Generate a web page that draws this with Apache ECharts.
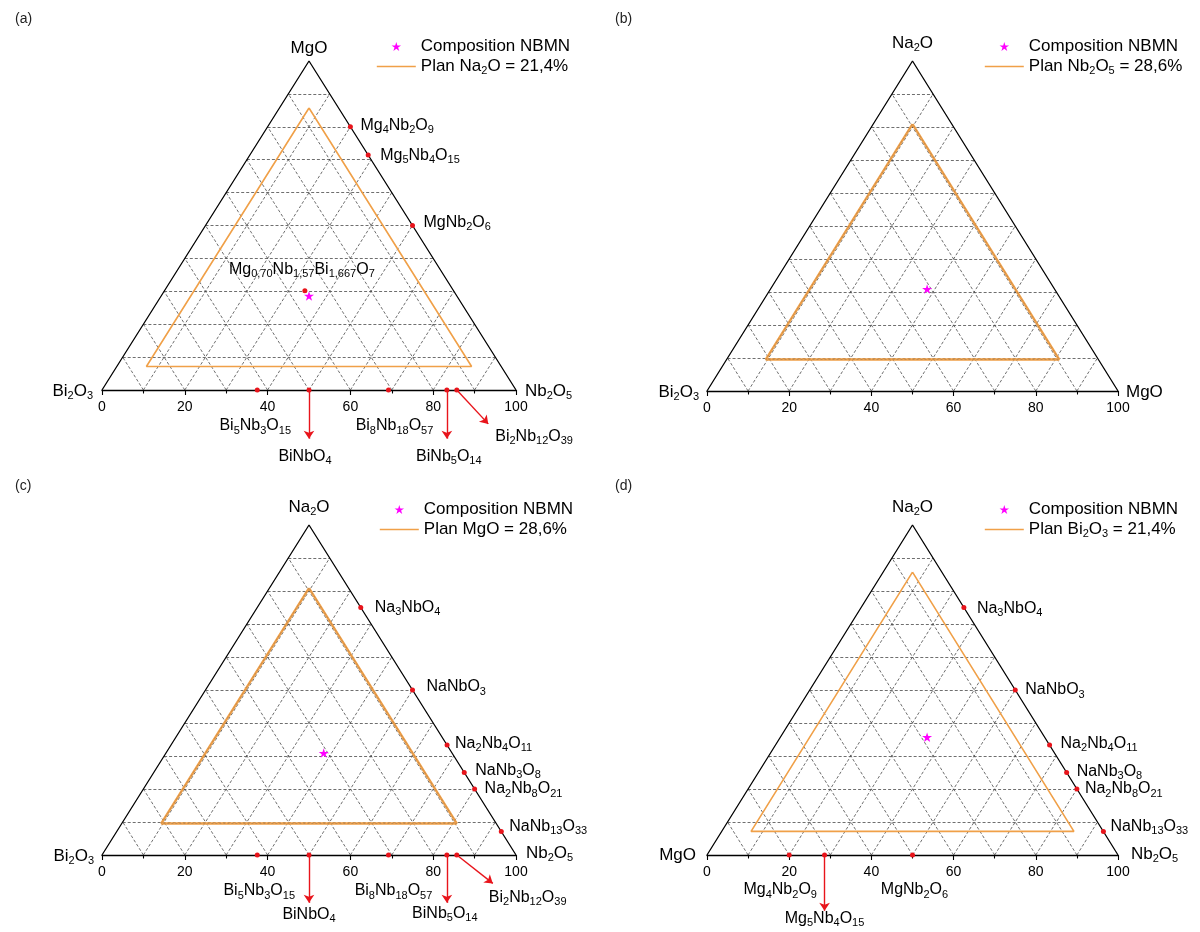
<!DOCTYPE html>
<html><head><meta charset="utf-8">
<script src="https://cdn.jsdelivr.net/npm/echarts/dist/echarts.min.js"></script>
<style>html,body{margin:0;padding:0;background:#fff}#c{width:1200px;height:932px}</style>
</head><body><div id="c"></div>
<script>
// ================= DATA (mol %) =================
// compositions are given as [top component %, right component %]; left = 100 - top - right
const GRID_LEVELS = [10, 20, 30, 40, 50, 60, 70, 80, 90];
const AXIS_TICK_STEP = 20;
const STAR_NAME = 'Composition NBMN';

// Panel (a): MgO (top) - Bi2O3 (left) - Nb2O5 (right)
const A_CORNERS = ['MgO', 'Bi2O3', 'Nb2O5'];
const A_PLAN_NAME = 'Plan Na2O = 21,4%';
const A_PLAN_TOP = [85.7, 7.15, 7.15];
const A_PLAN_RIGHT = [7.15, 7.15, 85.7];
const A_STAR_TOP = [28.6];
const A_STAR_RIGHT = [35.7];
const A_PHASES = ['Mg4Nb2O9', 'Mg5Nb4O15', 'MgNb2O6', 'Mg0,70Nb1,57Bi1,667O7', 'Bi5Nb3O15', 'BiNbO4', 'Bi8Nb18O57', 'BiNb5O14', 'Bi2Nb12O39'];
const A_PHASE_TOP = [80, 71.4, 50, 30.2, 0, 0, 0, 0, 0];
const A_PHASE_RIGHT = [20, 28.6, 50, 33.9, 37.5, 50, 69.2, 83.3, 85.7];
const A_ARROWS = ['BiNbO4', 'BiNb5O14', 'Bi2Nb12O39'];
const A_ARROW_X = [50, 83.3, 93.3];      // arrow tip, base-axis value
const A_ARROW_Y = [-14.8, -14.8, -10.3]; // arrow tip, height value (below the base)

// Panel (b): Na2O (top) - Bi2O3 (left) - MgO (right)
const B_CORNERS = ['Na2O', 'Bi2O3', 'MgO'];
const B_PLAN_NAME = 'Plan Nb2O5 = 28,6%';
const B_PLAN_TOP = [80.9, 9.55, 9.55];
const B_PLAN_RIGHT = [9.55, 9.55, 80.9];
const B_STAR_TOP = [30.9];
const B_STAR_RIGHT = [38.1];
const B_PHASES = [];
const B_PHASE_TOP = [];
const B_PHASE_RIGHT = [];
const B_ARROWS = [];
const B_ARROW_X = [];
const B_ARROW_Y = [];

// Panel (c): Na2O (top) - Bi2O3 (left) - Nb2O5 (right)
const C_CORNERS = ['Na2O', 'Bi2O3', 'Nb2O5'];
const C_PLAN_NAME = 'Plan MgO = 28,6%';
const C_PLAN_TOP = [80.9, 9.55, 9.55];
const C_PLAN_RIGHT = [9.55, 9.55, 80.9];
const C_STAR_TOP = [30.9];
const C_STAR_RIGHT = [38.1];
const C_PHASES = ['Na3NbO4', 'NaNbO3', 'Na2Nb4O11', 'NaNb3O8', 'Na2Nb8O21', 'NaNb13O33', 'Bi5Nb3O15', 'BiNbO4', 'Bi8Nb18O57', 'BiNb5O14', 'Bi2Nb12O39'];
const C_PHASE_TOP = [75, 50, 33.3, 25, 20, 7.1, 0, 0, 0, 0, 0];
const C_PHASE_RIGHT = [25, 50, 66.7, 75, 80, 92.9, 37.5, 50, 69.2, 83.3, 85.7];
const C_ARROWS = ['BiNbO4', 'BiNb5O14', 'Bi2Nb12O39'];
const C_ARROW_X = [50, 83.3, 94.4];
const C_ARROW_Y = [-14.5, -14.5, -8.6];

// Panel (d): Na2O (top) - MgO (left) - Nb2O5 (right)
const D_CORNERS = ['Na2O', 'MgO', 'Nb2O5'];
const D_PLAN_NAME = 'Plan Bi2O3 = 21,4%';
const D_PLAN_TOP = [85.7, 7.15, 7.15];
const D_PLAN_RIGHT = [7.15, 7.15, 85.7];
const D_STAR_TOP = [35.7];
const D_STAR_RIGHT = [35.7];
const D_PHASES = ['Na3NbO4', 'NaNbO3', 'Na2Nb4O11', 'NaNb3O8', 'Na2Nb8O21', 'NaNb13O33', 'Mg4Nb2O9', 'Mg5Nb4O15', 'MgNb2O6'];
const D_PHASE_TOP = [75, 50, 33.3, 25, 20, 7.1, 0, 0, 0];
const D_PHASE_RIGHT = [25, 50, 66.7, 75, 80, 92.9, 20, 28.6, 50];
const D_ARROWS = ['Mg5Nb4O15'];
const D_ARROW_X = [28.6];
const D_ARROW_Y = [-16.9];

// ================= LAYOUT / STYLE =================
const FONT = 'Liberation Sans, Arial, sans-serif';
const TXT = '#000';
const ORANGE = '#F0A048';
const RED = '#E8141B';
const MAGENTA = '#FF00FF';
const STAR = 'path://M50,0 L61.2,34.5 L97.6,34.5 L68.2,55.9 L79.4,90.5 L50,69.1 L20.6,90.5 L31.8,55.9 L2.4,34.5 L38.8,34.5 Z';

const PANELS = [
  { tag: '(a)', tagPos: [10, 7], grid: [102, 61, 414, 329], legend: [376, 38], planW: 1.6, planDouble: false,
    corners: A_CORNERS, planName: A_PLAN_NAME, planTop: A_PLAN_TOP, planRight: A_PLAN_RIGHT,
    starTop: A_STAR_TOP, starRight: A_STAR_RIGHT, phases: A_PHASES, phTop: A_PHASE_TOP, phRight: A_PHASE_RIGHT,
    arrows: A_ARROWS, arX: A_ARROW_X, arY: A_ARROW_Y,
    cornerLbl: [[0, -13, 'center'], [-9, 1, 'right'], [9, 1, 'left']],
    lbl: { 'Mg4Nb2O9': [10, -1, 'left'], 'Mg5Nb4O15': [12, 0, 'left'], 'MgNb2O6': [11, -3, 'left'],
           'Mg0,70Nb1,57Bi1,667O7': [-3, -21, 'center'], 'Bi5Nb3O15': [-2, 36, 'center'], 'Bi8Nb18O57': [6, 36, 'center'] },
    tipLbl: { 'BiNbO4': [-4, 18, 'center'], 'BiNb5O14': [2, 18, 'center'], 'Bi2Nb12O39': [7, 13, 'left'] } },
  { tag: '(b)', tagPos: [610, 7], grid: [707, 61, 411, 330], legend: [984, 38], planW: 2.4, planDouble: true,
    corners: B_CORNERS, planName: B_PLAN_NAME, planTop: B_PLAN_TOP, planRight: B_PLAN_RIGHT,
    starTop: B_STAR_TOP, starRight: B_STAR_RIGHT, phases: B_PHASES, phTop: B_PHASE_TOP, phRight: B_PHASE_RIGHT,
    arrows: B_ARROWS, arX: B_ARROW_X, arY: B_ARROW_Y,
    cornerLbl: [[0, -18, 'center'], [-8, 1, 'right'], [8, 1, 'left']], lbl: {}, tipLbl: {} },
  { tag: '(c)', tagPos: [10, 474], grid: [102, 525, 414, 330], legend: [379, 501], planW: 2.4, planDouble: true,
    corners: C_CORNERS, planName: C_PLAN_NAME, planTop: C_PLAN_TOP, planRight: C_PLAN_RIGHT,
    starTop: C_STAR_TOP, starRight: C_STAR_RIGHT, phases: C_PHASES, phTop: C_PHASE_TOP, phRight: C_PHASE_RIGHT,
    arrows: C_ARROWS, arX: C_ARROW_X, arY: C_ARROW_Y,
    cornerLbl: [[0, -18, 'center'], [-8, 1, 'right'], [10, -2, 'left']],
    lbl: { 'Na3NbO4': [14, 0, 'left'], 'NaNbO3': [14, -3, 'left'], 'Na2Nb4O11': [8, -2, 'left'], 'NaNb3O8': [11, -2, 'left'],
           'Na2Nb8O21': [10, 0, 'left'], 'NaNb13O33': [8, -5, 'left'], 'Bi5Nb3O15': [2, 36, 'center'], 'Bi8Nb18O57': [5, 36, 'center'] },
    tipLbl: { 'BiNbO4': [0, 12, 'center'], 'BiNb5O14': [-2, 11, 'center'], 'Bi2Nb12O39': [-4, 14, 'left'] } },
  { tag: '(d)', tagPos: [610, 474], grid: [707, 525, 411, 330], legend: [984, 501], planW: 1.6, planDouble: false,
    corners: D_CORNERS, planName: D_PLAN_NAME, planTop: D_PLAN_TOP, planRight: D_PLAN_RIGHT,
    starTop: D_STAR_TOP, starRight: D_STAR_RIGHT, phases: D_PHASES, phTop: D_PHASE_TOP, phRight: D_PHASE_RIGHT,
    arrows: D_ARROWS, arX: D_ARROW_X, arY: D_ARROW_Y,
    cornerLbl: [[0, -17.5, 'center'], [-11, 0, 'right'], [13, -1, 'left']],
    lbl: { 'Na3NbO4': [13, 1, 'left'], 'NaNbO3': [10, 0, 'left'], 'Na2Nb4O11': [11, -2, 'left'], 'NaNb3O8': [10, -1, 'left'],
           'Na2Nb8O21': [8, 0, 'left'], 'NaNb13O33': [7, -5, 'left'], 'Mg4Nb2O9': [-9, 35, 'center'], 'MgNb2O6': [2, 35, 'center'] },
    tipLbl: { 'Mg5Nb4O15': [0, 8, 'center'] } }
];

// ================= HELPERS =================
function tern(top, right) { return [right + top / 2, top]; }
function rich(s) {
  return s.split(/(?<=[A-Za-z])(\d[\d,]*)/).map((p, i) => p === '' ? '' : (i % 2 ? '{s|' + p + '}' : '{n|' + p + '}')).join('');
}
function richStyle(size, sub) {
  return { n: { fontSize: size, lineHeight: 20, color: TXT, fontFamily: FONT, textBorderWidth: 0, opacity: 1 },
           s: { fontSize: sub, lineHeight: sub, verticalAlign: 'bottom', color: TXT, fontFamily: FONT, textBorderWidth: 0, opacity: 1 } };
}
const LBL_RICH = richStyle(16, 11);
const CORNER_RICH = richStyle(17, 11);
const LEG_RICH = richStyle(17, 11);

function gridSegments() {
  const segs = [];
  GRID_LEVELS.forEach(v => {
    segs.push({ coords: [[v / 2, v], [100 - v / 2, v]] });              // constant top component
    segs.push({ coords: [tern(0, v), tern(100 - v, v)] });               // constant right component
    segs.push({ coords: [tern(0, 100 - v), tern(100 - v, 0)] });         // constant left component
  });
  return segs;
}
function lblOpt(o, size) {
  return { show: true, position: 'inside', offset: [o[0], o[1]], align: o[2], verticalAlign: 'middle',
           color: TXT, opacity: 1, textBorderWidth: 0, textShadowBlur: 0,
           formatter: p => rich(p.name), rich: size === 17 ? CORNER_RICH : LBL_RICH };
}

// ================= BUILD =================
const grids = [], xAxes = [], yAxes = [], series = [], legends = [], titles = [];
PANELS.forEach((P, gi) => {
  const ax = { xAxisIndex: gi, yAxisIndex: gi };
  grids.push({ left: P.grid[0], top: P.grid[1], width: P.grid[2], height: P.grid[3], containLabel: false });
  xAxes.push({ gridIndex: gi, type: 'value', min: 0, max: 100, interval: AXIS_TICK_STEP,
    axisLine: { show: true, lineStyle: { color: '#000', width: 1.3 } },
    axisTick: { show: true, length: 5, lineStyle: { color: '#000', width: 1.1 } },
    minorTick: { show: true, splitNumber: 2, length: 3.5, lineStyle: { color: '#000', width: 1.1 } },
    splitLine: { show: false },
    axisLabel: { fontSize: 14, color: TXT, margin: 10, fontFamily: FONT, showMinLabel: true, showMaxLabel: true } });
  yAxes.push({ gridIndex: gi, type: 'value', min: 0, max: 100, show: false });
  titles.push({ text: P.tag, left: P.tagPos[0], top: P.tagPos[1], textStyle: { fontSize: 14, fontWeight: 'normal', color: '#222', fontFamily: FONT } });

  // grid lines
  series.push(Object.assign({ type: 'lines', coordinateSystem: 'cartesian2d', silent: true, clip: false, z: 1,
    lineStyle: { color: '#4a4a4a', width: 0.8, type: [3, 2], opacity: 1 }, data: gridSegments() }, ax));
  // triangle sides (base is the axis line)
  series.push(Object.assign({ type: 'line', silent: true, clip: false, symbol: 'none', z: 4,
    lineStyle: { color: '#000', width: 1.3 }, data: [tern(0, 0), tern(100, 0), tern(0, 100)] }, ax));
  // plan triangle
  const planData = P.planTop.map((t, k) => tern(t, P.planRight[k]));
  planData.push(planData[0]);
  series.push(Object.assign({ type: 'line', name: P.planName, silent: true, clip: false, symbol: 'none', showSymbol: false, z: 3,
    color: ORANGE, itemStyle: { color: ORANGE }, lineStyle: { color: ORANGE, width: P.planW }, data: planData }, ax));
  if (P.planDouble) {
    series.push(Object.assign({ type: 'line', silent: true, clip: false, symbol: 'none', z: 3,
      lineStyle: { color: '#9a7a5a', width: 0.7, type: [2, 2], opacity: 0.8 }, data: planData }, ax));
  }
  // phases (red dots)
  const pos = {};
  P.phases.forEach((n, k) => { pos[n] = tern(P.phTop[k], P.phRight[k]); });
  if (P.phases.length) {
    series.push(Object.assign({ type: 'scatter', silent: true, clip: false, z: 5, symbol: 'circle', symbolSize: 5,
      itemStyle: { color: RED, opacity: 1 },
      data: P.phases.map(n => ({ name: n, value: pos[n], label: P.lbl[n] ? lblOpt(P.lbl[n], 16) : { show: false } })) }, ax));
  }
  // arrows
  if (P.arrows.length) {
    series.push(Object.assign({ type: 'lines', coordinateSystem: 'cartesian2d', silent: true, clip: false, z: 5,
      symbol: ['none', 'arrow'], symbolSize: 8,
      lineStyle: { color: RED, width: 1.4, opacity: 1 },
      data: P.arrows.map((n, k) => ({ coords: [pos[n], [P.arX[k], P.arY[k]]] })) }, ax));
    series.push(Object.assign({ type: 'scatter', silent: true, clip: false, z: 6, symbolSize: 1,
      itemStyle: { color: 'rgba(0,0,0,0)', opacity: 1 },
      data: P.arrows.map((n, k) => ({ name: n, value: [P.arX[k], P.arY[k]], label: lblOpt(P.tipLbl[n], 16) })) }, ax));
  }
  // corner labels
  const cornerPos = [tern(100, 0), tern(0, 0), tern(0, 100)];
  series.push(Object.assign({ type: 'scatter', silent: true, clip: false, z: 6, symbolSize: 1,
    itemStyle: { color: 'rgba(0,0,0,0)', opacity: 1 },
    data: P.corners.map((n, k) => ({ name: n, value: cornerPos[k], label: lblOpt(P.cornerLbl[k], 17) })) }, ax));
  // composition star
  series.push(Object.assign({ type: 'scatter', name: STAR_NAME, silent: true, clip: false, z: 7,
    symbol: STAR, symbolSize: 10, symbolKeepAspect: true, itemStyle: { color: MAGENTA, opacity: 1 },
    data: P.starTop.map((t, k) => tern(t, P.starRight[k])) }, ax));

  legends.push({ left: P.legend[0], top: P.legend[1], orient: 'vertical', padding: 0, itemGap: 3,
    itemWidth: 39, itemHeight: 9, selectedMode: false,
    data: [{ name: STAR_NAME },
           { name: P.planName, itemStyle: { opacity: 0, color: 'rgba(0,0,0,0)', borderWidth: 0 },
             lineStyle: { color: ORANGE, width: 1.6, opacity: 1 } }],
    formatter: n => rich(n), textStyle: { fontSize: 17, color: TXT, fontFamily: FONT, rich: LEG_RICH } });
});

const chart = echarts.init(document.getElementById('c'), null, { renderer: 'canvas' });
chart.setOption({
  animation: false, backgroundColor: '#fff',
  textStyle: { fontFamily: FONT },
  title: titles, grid: grids, xAxis: xAxes, yAxis: yAxes, legend: legends, series: series
});
</script></body></html>
